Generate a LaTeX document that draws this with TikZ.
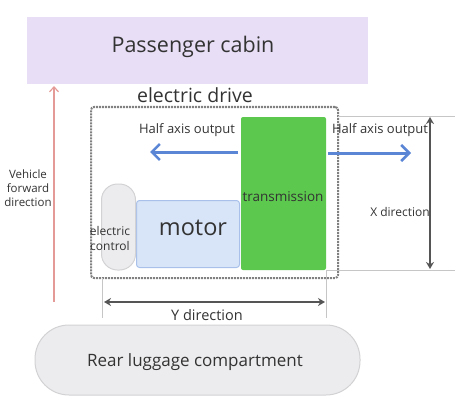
\documentclass[tikz,border=0pt]{standalone}
\usepackage{fontspec}
\setmainfont{Open Sans}
\usetikzlibrary{arrows.meta}
\definecolor{cabin}{HTML}{E8DEF6}
\definecolor{fwd}{HTML}{E49A96}
\definecolor{trans}{HTML}{5CC94E}
\definecolor{motorf}{HTML}{D8E5F8}
\definecolor{motord}{HTML}{A9C1EA}
\definecolor{ecf}{HTML}{ECECEE}
\definecolor{ecd}{HTML}{D2D2D4}
\definecolor{bluearr}{HTML}{5B86D6}
\definecolor{dimc}{HTML}{555555}
\definecolor{txt}{HTML}{333333}
\begin{document}
\begin{tikzpicture}[x=1pt,y=-1pt,
  lbl/.style={text=txt,inner sep=0pt,align=center},
  dimarrow/.style={draw=dimc,line width=1.3pt,{Stealth[length=7pt,width=8pt]}-{Stealth[length=7pt,width=8pt]}},
  guide/.style={draw=gray!45,line width=0.6pt},
  outarrow/.style={draw=bluearr,line width=3pt,-{Straight Barb[length=8pt,width=16pt,line width=2.5pt]}}]
\useasboundingbox (0,0) rectangle (465,409);
% cabin
\node[fill=cabin,minimum width=341pt,minimum height=67pt,inner sep=0pt] (cabin) at (197.5,50.5) {};
\node[lbl,font=\fontsize{21.5}{24}\selectfont] (cabint) at (193,47) {Passenger cabin};
% forward arrow
\coordinate (fwdbot) at (54,302);
\coordinate (fwdtop) at (54,86);
\draw[fwd,line width=1.2pt,-{Straight Barb[length=5pt,width=9pt]}] (fwdbot) -- (fwdtop);
\node[lbl,font=\fontsize{11.5}{14}\selectfont] (fwdt) at (28,188) {Vehicle\\forward\\direction};
% electric drive
\node[lbl,font=\fontsize{19.5}{22}\selectfont] (edt) at (195,95) {electric drive};
\node[draw=gray,dash pattern=on 2pt off 1pt,line width=2pt,rounded corners=3pt,minimum width=247pt,minimum height=171pt,inner sep=0pt] (ed) at (214.5,192.5) {};
% transmission
\node[fill=trans,rounded corners=2pt,minimum width=85pt,minimum height=153pt,inner sep=0pt] (trans) at (283.5,193.5) {};
\node[lbl,font=\fontsize{13.5}{16}\selectfont] (transt) at (283,197) {transmission};
% motor
\node[fill=motorf,draw=motord,line width=1pt,rounded corners=3pt,minimum width=103pt,minimum height=67pt,inner sep=0pt] (motor) at (188,234) {};
\node[lbl,font=\fontsize{23.5}{26}\selectfont] (motort) at (193,228) {motor};
% electric control
\node[fill=ecf,draw=ecd,line width=1pt,rounded corners=16pt,minimum width=34pt,minimum height=86pt,inner sep=0pt] (ec) at (118.5,227) {};
\node[lbl,font=\fontsize{12}{15}\selectfont] (ect) at (110,238) {electric\\control};
% half axis outputs
\coordinate (lstart) at (238,152);
\coordinate (lend) at (150,152);
\draw[outarrow] (lstart) -- (lend);
\node[lbl,font=\fontsize{13}{15}\selectfont] (lt) at (187,130) {Half axis output};
\coordinate (rstart) at (328,153);
\coordinate (rend) at (411,153);
\draw[outarrow] (rstart) -- (rend);
\node[lbl,font=\fontsize{13}{15}\selectfont] (rt) at (380,130) {Half axis output};
% X direction
\coordinate (xg1a) at (338,116);
\coordinate (xg1b) at (455,116);
\coordinate (xg2a) at (326,270);
\coordinate (xg2b) at (455,270);
\draw[guide] (xg1a) -- (xg1b);
\draw[guide] (xg2a) -- (xg2b);
\coordinate (xt) at (430,117);
\coordinate (xb) at (430,269);
\draw[dimarrow] (xt) -- (xb);
\node[lbl,font=\fontsize{12}{14}\selectfont] (xtxt) at (400,212) {X direction};
% Y direction
\coordinate (yg1a) at (102,278);
\coordinate (yg1b) at (102,318);
\coordinate (yg2a) at (326,270);
\coordinate (yg2b) at (326,318);
\draw[guide] (yg1a) -- (yg1b);
\draw[guide] (yg2a) -- (yg2b);
\coordinate (yl) at (104,302);
\coordinate (yr) at (325,302);
\draw[dimarrow] (yl) -- (yr);
\node[lbl,font=\fontsize{14.5}{17}\selectfont] (ytxt) at (207,315) {Y direction};
% rear luggage
\node[fill=ecf,draw=ecd,line width=1pt,rounded corners=34pt,minimum width=325pt,minimum height=70pt,inner sep=0pt] (rear) at (197.5,360) {};
\node[lbl,font=\fontsize{17}{20}\selectfont] (reart) at (195,362) {Rear luggage compartment};
\end{tikzpicture}
\end{document}
